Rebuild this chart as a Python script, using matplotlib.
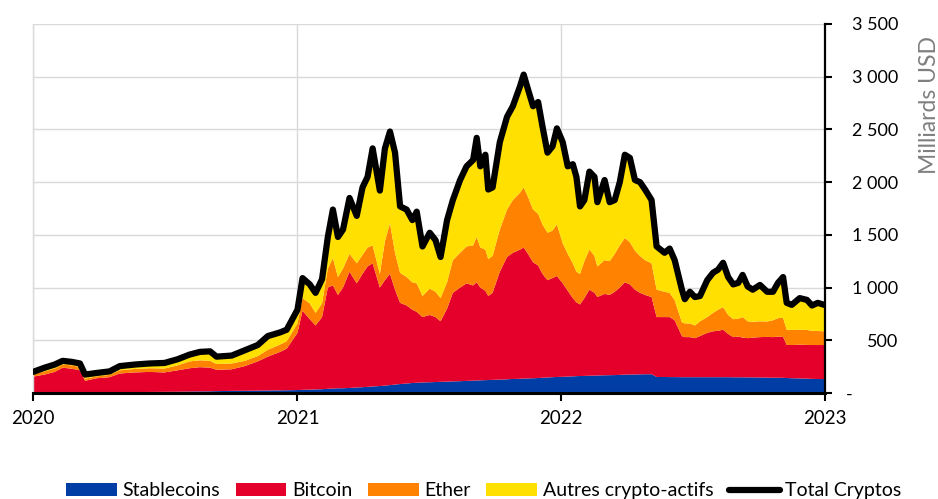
import matplotlib
matplotlib.use("Agg")
import matplotlib.pyplot as plt
import matplotlib.dates as mdates
from matplotlib.lines import Line2D
from matplotlib.patches import Patch
import numpy as np
import pandas as pd

plt.rcParams["font.family"] = ["Lato", "DejaVu Sans"]

# --- data (Milliards USD) ---
dates = [
    "2020-01-01", "2020-01-17", "2020-01-31", "2020-02-11", "2020-02-24", "2020-03-06",
    "2020-03-13", "2020-03-29", "2020-04-16", "2020-04-30", "2020-05-21", "2020-06-10",
    "2020-07-01", "2020-07-19", "2020-08-05", "2020-08-19", "2020-09-02", "2020-09-11",
    "2020-10-02", "2020-10-20", "2020-11-07", "2020-11-21", "2020-12-08", "2020-12-17",
    "2021-01-01", "2021-01-08", "2021-01-18", "2021-01-26", "2021-02-04", "2021-02-12",
    "2021-02-19", "2021-02-26", "2021-03-05", "2021-03-14", "2021-03-24", "2021-04-01",
    "2021-04-08", "2021-04-15", "2021-04-25", "2021-05-02", "2021-05-09", "2021-05-16",
    "2021-05-23", "2021-06-01", "2021-06-09", "2021-06-15", "2021-06-23", "2021-07-03",
    "2021-07-11", "2021-07-18", "2021-07-27", "2021-08-04", "2021-08-14", "2021-08-23",
    "2021-09-01", "2021-09-06", "2021-09-11", "2021-09-18", "2021-09-22", "2021-09-28",
    "2021-10-08", "2021-10-18", "2021-10-26", "2021-11-05", "2021-11-10", "2021-11-16",
    "2021-11-23", "2021-11-30", "2021-12-06", "2021-12-13", "2021-12-20", "2021-12-26",
    "2022-01-03", "2022-01-10", "2022-01-17", "2022-01-22", "2022-01-27", "2022-02-02",
    "2022-02-09", "2022-02-16", "2022-02-20", "2022-03-02", "2022-03-09", "2022-03-16",
    "2022-03-23", "2022-03-30", "2022-04-06", "2022-04-13", "2022-04-20", "2022-04-27",
    "2022-05-06", "2022-05-13", "2022-05-24", "2022-05-31", "2022-06-07", "2022-06-17",
    "2022-06-21", "2022-06-28", "2022-07-05", "2022-07-12", "2022-07-22", "2022-07-30",
    "2022-08-06", "2022-08-13", "2022-08-20", "2022-08-27", "2022-09-03", "2022-09-09",
    "2022-09-16", "2022-09-23", "2022-10-03", "2022-10-13", "2022-10-21", "2022-10-28",
    "2022-11-04", "2022-11-09", "2022-11-16", "2022-11-27", "2022-12-07", "2022-12-14",
    "2022-12-22", "2022-12-31",
]

stablecoins = [
    4, 4, 4, 5, 5, 5, 6, 6, 7, 8, 9, 10, 11, 12, 14, 15, 16, 18, 20, 21, 22, 24, 25, 26,
    28, 30, 32, 34, 36, 40, 42, 45, 45, 48, 52, 55, 58, 62, 66, 70, 75, 80, 85, 90, 95, 97,
    100, 102, 104, 106, 108, 110, 112, 115, 117, 119, 120, 122, 123, 125, 127, 130, 133, 135,
    137, 138, 140, 142, 145, 147, 150, 152,
    154, 156, 158, 160, 161, 162, 164, 165, 166, 168, 169, 170, 172, 174, 175, 176, 177, 178,
    178, 152, 152, 151, 151, 150, 150, 150, 150, 150, 150, 150, 150, 150, 150, 149, 149, 149,
    148, 148, 147, 146, 145, 145, 144, 142, 140, 138, 136, 134, 133, 132,
]

bitcoin = [
    151, 171, 196, 235, 225, 210, 109, 134, 143, 177, 186, 190, 184, 203, 221, 230, 224, 202,
    205, 234, 278, 321, 365, 394,
    542, 750, 668, 606, 684, 960, 978, 885, 955, 1102, 988, 1075, 1142, 1168, 934, 1000, 1055,
    900, 770, 740, 695, 673, 620, 638, 616, 574, 692, 840, 888, 925, 903, 931, 880, 848, 797,
    825, 1023, 1160, 1197, 1225, 1243, 1182, 1100, 1068, 985, 923, 940, 958,
    886, 814, 742, 700, 679, 738, 816, 785, 744, 772, 761, 790, 828, 876, 855, 804, 773, 752,
    732, 568, 568, 569, 539, 390, 380, 380, 370, 390, 420, 435, 440, 450, 410, 381, 386, 376,
    372, 377, 383, 386, 385, 390, 388, 314, 315, 320, 320, 321, 322, 323,
]

ether = [
    23, 30, 32, 30, 32, 30, 20, 18, 22, 30, 33, 35, 37, 47, 65, 65, 65, 55, 55, 50, 50, 65,
    70, 70,
    90, 120, 150, 120, 130, 180, 260, 170, 180, 170, 190, 180, 180, 170, 130, 370, 480, 350,
    285, 270, 260, 270, 200, 250, 240, 220, 250, 310, 330, 350, 380, 430, 380, 390, 350, 350,
    400, 450, 500, 540, 570, 540, 500, 490, 470, 450, 450, 490,
    380, 350, 330, 290, 290, 350, 380, 350, 290, 320, 320, 360, 400, 420, 400, 370, 350, 330,
    320, 260, 240, 230, 190, 130, 130, 130, 120, 140, 150, 175, 200, 215, 180, 170, 170, 195,
    160, 150, 150, 146, 160, 175, 181, 144, 143, 142, 142, 135, 133, 130,
]

autres = [
    22, 35, 38, 35, 33, 35, 40, 32, 33, 40, 42, 45, 53, 58, 65, 80, 90, 70, 75, 100, 105,
    130, 115, 110,
    130, 190, 180, 190, 230, 300, 460, 380, 370, 530, 450, 640, 670, 920, 790, 880, 870, 950,
    630, 640, 590, 680, 470, 530, 490, 390, 590, 570, 690, 760, 810, 940, 770, 900, 660, 650,
    830, 880, 890, 1010, 1070, 1020, 980, 1060, 930, 760, 800, 910,
    960, 830, 940, 900, 640, 580, 740, 750, 610, 760, 560, 510, 600, 790, 800, 670, 700, 670,
    600, 410, 370, 420, 380, 310, 230, 300, 270, 240, 350, 380, 380, 420, 360, 330, 340, 400,
    330, 305, 345, 282, 270, 335, 387, 255, 238, 300, 285, 240, 267, 251,
]

labels = ["Stablecoins", "Bitcoin", "Ether", "Autres crypto-actifs"]
colors = ["#003DA5", "#E4002B", "#FF8200", "#FFE000"]

x = pd.to_datetime(dates)
layers = np.array([stablecoins, bitcoin, ether, autres], dtype=float)
total = layers.sum(axis=0)

fig = plt.figure(figsize=(9.38, 4.99), dpi=100)
ax = fig.add_axes([33 / 938, 1 - 393 / 499, (825 - 33) / 938, (393 - 24) / 499])

ax.stackplot(x, layers, colors=colors, linewidth=0, zorder=2)
ax.plot(x, total, color="black", linewidth=4.5, solid_joinstyle="round",
        solid_capstyle="round", zorder=3)

ax.set_xlim(pd.Timestamp("2020-01-01"), pd.Timestamp("2023-01-01"))
ax.set_ylim(0, 3500)

# grid + frame
ax.grid(True, color="#D9D9D9", linewidth=1.0, zorder=0)
ax.set_axisbelow(True)
ax.spines["top"].set_visible(False)
ax.spines["left"].set_color("#D9D9D9")
ax.spines["left"].set_linewidth(1.0)
ax.spines["right"].set_color("black")
ax.spines["right"].set_linewidth(1.6)
ax.spines["bottom"].set_color("black")
ax.spines["bottom"].set_linewidth(2.2)
ax.spines["right"].set_zorder(4)
ax.spines["bottom"].set_zorder(4)

# x axis: years
ax.xaxis.set_major_locator(mdates.YearLocator())
ax.xaxis.set_major_formatter(mdates.DateFormatter("%Y"))
ax.tick_params(axis="x", direction="out", length=6, width=1.5, color="black",
               labelsize=13.5, pad=6)

# y axis on the right, right-aligned labels
yt = np.arange(0, 3501, 500)
ax.yaxis.tick_right()
ax.set_yticks(yt)
ax.set_yticklabels(["-          "] + [f"{v:,}".replace(",", " ") for v in yt[1:]])
ax.tick_params(axis="y", which="both", left=False, right=True, direction="out",
               length=5, width=1.5, color="black", labelsize=13, pad=48)
for lab in ax.get_yticklabels():
    lab.set_horizontalalignment("right")

fig.text(929 / 938, 1 - 105 / 499, "Milliards USD", rotation=90, ha="center",
         va="center", color="#7F7F7F", fontsize=16.5)

handles = [Patch(facecolor=c, edgecolor="none") for c in colors]
handles.append(Line2D([0], [0], color="black", linewidth=4.5, solid_capstyle="round"))
fig.legend(handles, labels + ["Total Cryptos"], loc="lower center",
           bbox_to_anchor=(0.516, -0.02), ncol=5, frameon=False, fontsize=14,
           handlelength=2.6, handleheight=0.65, handletextpad=0.3, columnspacing=0.8,
           borderpad=0.0)

fig.savefig("out.png", dpi=100)
